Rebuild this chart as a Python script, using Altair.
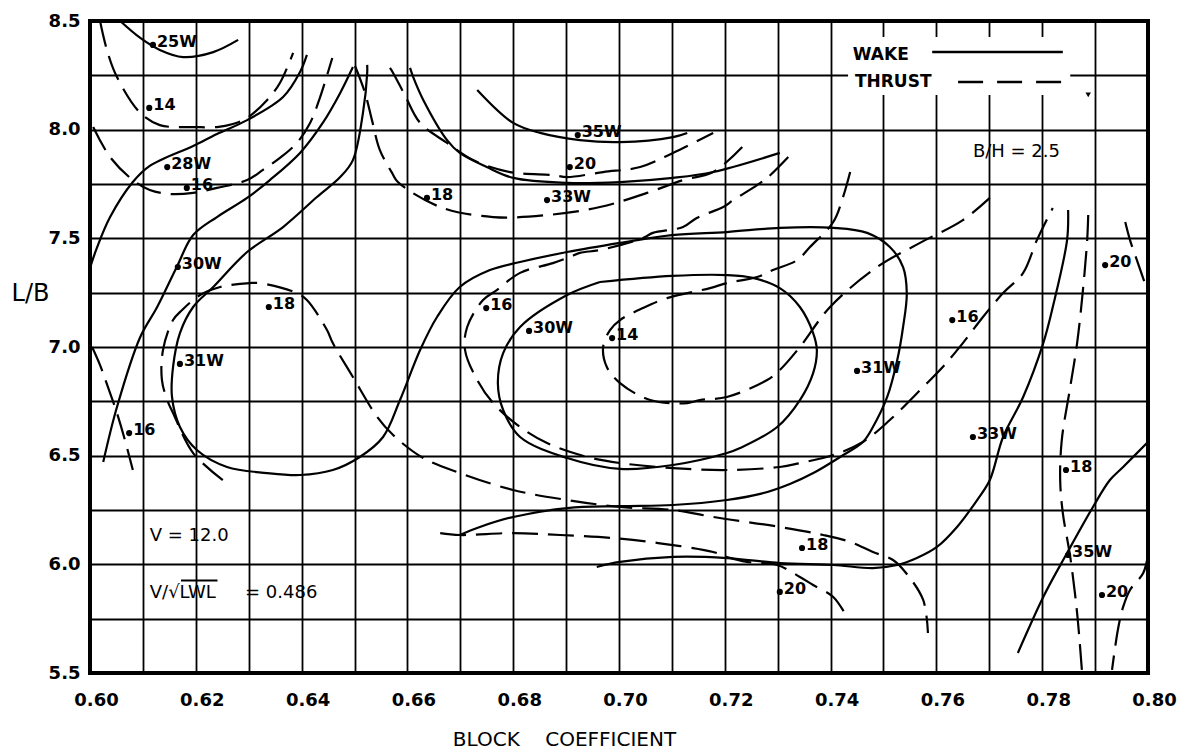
import altair as alt
import pandas as pd

# ---------------- axes ----------------
x_grid = [0.60, 0.61, 0.62, 0.63, 0.64, 0.65, 0.66, 0.67, 0.68, 0.69, 0.70,
          0.71, 0.72, 0.73, 0.74, 0.75, 0.76, 0.77, 0.78, 0.79, 0.80]
y_grid = [5.5, 5.75, 6.0, 6.25, 6.5, 6.75, 7.0, 7.25, 7.5, 7.75, 8.0, 8.25, 8.5]

# ---------------- WAKE contours (solid) ----------------
wake_25 = [(0.6057, 8.500), (0.6095, 8.422), (0.6132, 8.367), (0.6176, 8.334),
           (0.6233, 8.357), (0.6280, 8.413)]
wake_28 = [(0.6000, 7.364), (0.6013, 7.456), (0.6038, 7.598), (0.6081, 7.759),
           (0.6113, 7.833), (0.6195, 7.925), (0.6240, 7.980), (0.6297, 8.044),
           (0.6365, 8.150), (0.6397, 8.265), (0.6410, 8.344)]
wake_30_left = [(0.6025, 6.471), (0.6051, 6.724), (0.6095, 7.046), (0.6127, 7.184),
                (0.6164, 7.368), (0.6195, 7.515), (0.6240, 7.598), (0.6297, 7.686),
                (0.6340, 7.768), (0.6397, 7.893), (0.6440, 8.031), (0.6473, 8.169),
                (0.6497, 8.288)]
wake_31 = [(0.6524, 8.298), (0.6524, 8.261), (0.6516, 8.077), (0.6497, 7.860),
           (0.6473, 7.782), (0.6429, 7.690), (0.6365, 7.552), (0.6297, 7.437),
           (0.6233, 7.276), (0.6195, 7.184), (0.6170, 7.064), (0.6157, 6.908),
           (0.6155, 6.770), (0.6170, 6.632), (0.6202, 6.526), (0.6259, 6.448),
           (0.6335, 6.420), (0.6397, 6.411), (0.6459, 6.434), (0.6510, 6.494),
           (0.6554, 6.586), (0.6586, 6.756), (0.6624, 6.986), (0.6656, 7.138),
           (0.6699, 7.276), (0.6756, 7.354), (0.6813, 7.391), (0.6902, 7.437),
           (0.7002, 7.479), (0.7100, 7.515), (0.7204, 7.529), (0.7304, 7.548),
           (0.7405, 7.548), (0.7469, 7.525), (0.7512, 7.460), (0.7537, 7.368),
           (0.7544, 7.248), (0.7537, 7.092), (0.7526, 6.940), (0.7507, 6.770),
           (0.7480, 6.632), (0.7461, 6.563), (0.7418, 6.494), (0.7371, 6.425),
           (0.7323, 6.370), (0.7267, 6.324), (0.7204, 6.296), (0.7102, 6.273),
           (0.7002, 6.268), (0.6902, 6.259), (0.6800, 6.218), (0.6737, 6.172),
           (0.6699, 6.135)]
wake_30_loop = [(0.6964, 7.299), (0.7100, 7.327), (0.7204, 7.331), (0.7253, 7.318),
                (0.7304, 7.271), (0.7342, 7.184), (0.7367, 7.064), (0.7374, 6.986),
                (0.7367, 6.880), (0.7342, 6.756), (0.7299, 6.632), (0.7229, 6.535),
                (0.7204, 6.512), (0.7102, 6.457), (0.7002, 6.439), (0.6902, 6.489),
                (0.6813, 6.586), (0.6781, 6.710), (0.6771, 6.834), (0.6781, 6.972),
                (0.6813, 7.092), (0.6902, 7.239), (0.6964, 7.299)]
wake_33_top = [(0.6605, 8.284), (0.6611, 8.242), (0.6630, 8.137), (0.6675, 7.952),
               (0.6699, 7.893), (0.6750, 7.828), (0.6800, 7.778), (0.6902, 7.755),
               (0.7002, 7.759), (0.7102, 7.778), (0.7178, 7.805), (0.7304, 7.893)]
wake_35_top = [(0.6732, 8.183), (0.6800, 8.031), (0.6851, 7.985), (0.6926, 7.952),
               (0.7002, 7.943), (0.7102, 7.966), (0.7129, 7.985)]
wake_33_right = [(0.6958, 5.988), (0.7002, 6.011), (0.7102, 6.034), (0.7204, 6.029),
                 (0.7304, 6.006), (0.7405, 5.997), (0.7480, 5.983), (0.7526, 5.997),
                 (0.7563, 6.029), (0.7601, 6.080), (0.7639, 6.172), (0.7677, 6.296),
                 (0.7701, 6.388), (0.7726, 6.586), (0.7764, 6.770), (0.7802, 7.018),
                 (0.7820, 7.184), (0.7847, 7.492), (0.7849, 7.630)]
wake_35_right = [(0.7998, 6.558), (0.7953, 6.448), (0.7928, 6.388), (0.7896, 6.264),
                 (0.7847, 6.052), (0.7802, 5.850), (0.7754, 5.592)]

# ---------------- THRUST contours (dashed) ----------------
thrust_14_top = [(0.6019, 8.500), (0.6032, 8.367), (0.6051, 8.242), (0.6095, 8.077),
                 (0.6132, 8.021), (0.6165, 8.012), (0.6195, 8.012), (0.6240, 8.012),
                 (0.6270, 8.026), (0.6297, 8.054), (0.6335, 8.137), (0.6359, 8.215),
                 (0.6384, 8.353)]
thrust_16_top = [(0.6006, 8.012), (0.6038, 7.874), (0.6081, 7.768), (0.6113, 7.722),
                 (0.6151, 7.704), (0.6195, 7.709), (0.6240, 7.732), (0.6297, 7.768),
                 (0.6327, 7.815), (0.6359, 7.870), (0.6391, 7.939), (0.6416, 8.031),
                 (0.6435, 8.150), (0.6458, 8.330)]
thrust_16_left = [(0.6004, 7.000), (0.6019, 6.917), (0.6028, 6.857), (0.6038, 6.788),
                  (0.6051, 6.696), (0.6066, 6.572), (0.6081, 6.434)]
thrust_18_main = [(0.6251, 6.388), (0.6195, 6.512), (0.6157, 6.696), (0.6146, 6.756),
                  (0.6136, 6.848), (0.6138, 6.986), (0.6157, 7.124), (0.6174, 7.170),
                  (0.6208, 7.239), (0.6246, 7.276), (0.6302, 7.294), (0.6321, 7.294),
                  (0.6391, 7.248), (0.6410, 7.216), (0.6448, 7.078), (0.6459, 7.018),
                  (0.6497, 6.862), (0.6543, 6.678), (0.6573, 6.595), (0.6630, 6.489),
                  (0.6699, 6.420), (0.6800, 6.342), (0.6902, 6.296), (0.7002, 6.264),
                  (0.7102, 6.250), (0.7178, 6.218), (0.7304, 6.172), (0.7386, 6.135),
                  (0.7437, 6.103), (0.7480, 6.057), (0.7518, 6.020), (0.7541, 5.965),
                  (0.7575, 5.836), (0.7584, 5.684)]
thrust_18_top = [(0.6501, 8.293), (0.6520, 8.169), (0.6533, 8.044), (0.6548, 7.906),
                 (0.6571, 7.801), (0.6582, 7.759), (0.6662, 7.644), (0.6762, 7.598),
                 (0.6864, 7.607), (0.6964, 7.644), (0.7053, 7.709), (0.7121, 7.768),
                 (0.7178, 7.805), (0.7233, 7.920)]
thrust_20_top = [(0.6567, 8.284), (0.6573, 8.261), (0.6595, 8.160), (0.6624, 8.031),
                 (0.6675, 7.939), (0.6724, 7.860), (0.6794, 7.805), (0.6875, 7.791),
                 (0.6902, 7.782), (0.6970, 7.805), (0.7040, 7.828), (0.7102, 7.893),
                 (0.7178, 7.985)]
thrust_16_mid = [(0.7320, 7.874), (0.7282, 7.782), (0.7261, 7.745), (0.7216, 7.676),
                 (0.7197, 7.644), (0.7147, 7.594), (0.7121, 7.552), (0.7064, 7.525),
                 (0.7045, 7.501), (0.6964, 7.446), (0.6926, 7.433), (0.6907, 7.414),
                 (0.6875, 7.386), (0.6813, 7.341), (0.6769, 7.262), (0.6743, 7.216),
                 (0.6713, 7.092), (0.6709, 6.986), (0.6732, 6.848), (0.6762, 6.742),
                 (0.6813, 6.632), (0.6864, 6.558), (0.6940, 6.494), (0.7002, 6.466),
                 (0.7102, 6.443), (0.7204, 6.434), (0.7304, 6.448), (0.7342, 6.466),
                 (0.7405, 6.503), (0.7461, 6.563), (0.7512, 6.664), (0.7575, 6.816),
                 (0.7612, 6.908), (0.7650, 7.018), (0.7688, 7.138), (0.7726, 7.248),
                 (0.7764, 7.341), (0.7790, 7.492), (0.7820, 7.640)]
thrust_14_mid = [(0.7437, 7.805), (0.7423, 7.686), (0.7405, 7.575), (0.7361, 7.460),
                 (0.7337, 7.400), (0.7291, 7.354), (0.7261, 7.322), (0.7204, 7.294),
                 (0.7172, 7.271), (0.7091, 7.225), (0.7045, 7.179), (0.7002, 7.124),
                 (0.6983, 7.078), (0.6970, 7.000), (0.6977, 6.908), (0.7002, 6.834),
                 (0.7059, 6.756), (0.7129, 6.742), (0.7153, 6.756), (0.7204, 6.770),
                 (0.7280, 6.848), (0.7304, 6.894), (0.7342, 7.000), (0.7399, 7.184),
                 (0.7488, 7.368), (0.7569, 7.479), (0.7650, 7.584), (0.7701, 7.686)]
thrust_20_low = [(0.6662, 6.144), (0.6699, 6.135), (0.6800, 6.144), (0.6889, 6.135),
                 (0.6989, 6.121), (0.7074, 6.098), (0.7178, 6.057), (0.7204, 6.034),
                 (0.7242, 6.011), (0.7299, 5.997), (0.7342, 5.942), (0.7367, 5.905),
                 (0.7405, 5.850), (0.7431, 5.758)]
thrust_18_right = [(0.7887, 7.607), (0.7885, 7.492), (0.7877, 7.262), (0.7866, 7.018),
                   (0.7853, 6.816), (0.7837, 6.572), (0.7834, 6.388), (0.7839, 6.236),
                   (0.7853, 6.034), (0.7866, 5.776), (0.7875, 5.514)]
thrust_20_right_top = [(0.7957, 7.575), (0.7966, 7.492), (0.7979, 7.400),
                       (0.7994, 7.294), (0.8000, 7.253)]
thrust_20_right_low = [(0.8000, 6.043), (0.7991, 5.960), (0.7966, 5.882),
                       (0.7953, 5.804), (0.7943, 5.698), (0.7932, 5.514)]

wake_curves = {"w25": wake_25, "w28": wake_28, "w30a": wake_30_left, "w31": wake_31,
               "w30b": wake_30_loop, "w33a": wake_33_top, "w35a": wake_35_top,
               "w33b": wake_33_right, "w35b": wake_35_right}
thrust_curves = {"t14a": thrust_14_top, "t16a": thrust_16_top, "t16c": thrust_16_left,
                 "t18a": thrust_18_main, "t18b": thrust_18_top, "t20a": thrust_20_top,
                 "t16b": thrust_16_mid, "t14b": thrust_14_mid, "t20b": thrust_20_low,
                 "t18c": thrust_18_right, "t20c": thrust_20_right_top,
                 "t20d": thrust_20_right_low}

# ---------------- contour value labels ----------------
label_text = [".25W", ".14", ".28W", ".16", ".30W", ".18", ".31W", ".16",
              ".18", ".35W", ".20", ".33W", ".16", ".30W", ".14", ".31W",
              ".16", ".20", ".33W", ".18", ".18", ".20", ".35W", ".20"]
label_x = [0.6119, 0.6112, 0.6146, 0.6183, 0.6166, 0.6338, 0.6170, 0.6074,
           0.6637, 0.6922, 0.6907, 0.6864, 0.6749, 0.6830, 0.6987, 0.7450,
           0.7630, 0.7919, 0.7669, 0.7845, 0.7346, 0.7304, 0.7849, 0.7913]
label_y = [8.390, 8.100, 7.828, 7.732, 7.368, 7.184, 6.922, 6.604,
           7.686, 7.975, 7.828, 7.676, 7.179, 7.074, 7.041, 6.890,
           7.124, 7.377, 6.586, 6.434, 6.075, 5.873, 6.043, 5.859]

# ---------------- annotations ----------------
note_text = ["B/H = 2.5", "V = 12.0", "V/√LWL", "= 0.486"]
note_x = [0.7669, 0.6113, 0.6113, 0.6293]
note_y = [7.897, 6.130, 5.868, 5.868]
overline_x, overline_x2, overline_y = [0.6172], [0.6241], [5.926]

legend_box_x, legend_box_x2 = [0.7433], [0.7853]
legend_box_y, legend_box_y2 = [8.426], [8.160]
legend_text = ["WAKE", "THRUST"]
legend_text_x = [0.7442, 0.7446]
legend_text_y = [8.344, 8.219]
legend_kind = ["WAKE", "THRUST"]
legend_line_x = [0.7592, 0.7641]
legend_line_x2 = [0.7839, 0.7839]
legend_line_y = [8.357, 8.219]
blob_x, blob_y = [0.7887], [8.160]

FONT = "DejaVu Sans"


def curves_df(curves, kind):
    rows = []
    for name, pts in curves.items():
        for i, (x, y) in enumerate(pts):
            rows.append({"curve": name, "kind": kind, "i": i, "x": x, "y": y})
    return pd.DataFrame(rows)


wake_df = curves_df(wake_curves, "WAKE")
thrust_df = curves_df(thrust_curves, "THRUST")
labels_df = pd.DataFrame({"x": label_x, "y": label_y, "label": label_text})
notes_df = pd.DataFrame({"x": note_x, "y": note_y, "label": note_text})
over_df = pd.DataFrame({"x": overline_x, "x2": overline_x2, "y": overline_y})
box_df = pd.DataFrame({"x": legend_box_x, "x2": legend_box_x2,
                       "y": legend_box_y, "y2": legend_box_y2})
leg_text_df = pd.DataFrame({"x": legend_text_x, "y": legend_text_y, "label": legend_text})
leg_line_df = pd.DataFrame({"x": legend_line_x, "x2": legend_line_x2,
                            "y": legend_line_y, "kind": legend_kind})
blob_df = pd.DataFrame({"x": blob_x, "y": blob_y})

NB = "\u00a0"
X = alt.X("x:Q",
          scale=alt.Scale(domain=[0.6, 0.8], nice=False, zero=False),
          axis=alt.Axis(values=x_grid,
                        labelExpr="round(datum.value*100) % 2 == 0 ? format(datum.value, '.2f') : ''",
                        labelPadding=18, labelOffset=6, labelOverlap=False, labelFlush=False,
                        title="BLOCK" + NB * 4 + "COEFFICIENT", titleX=474, titleY=72,
                        titleAlign="center", titleBaseline="alphabetic", titleFontSize=20))
Y = alt.Y("y:Q",
          scale=alt.Scale(domain=[5.5, 8.5], nice=False, zero=False),
          axis=alt.Axis(values=y_grid,
                        labelExpr="round(datum.value*4) % 2 == 0 ? format(datum.value, '.1f') : ''",
                        labelPadding=10, labelOverlap=False, labelFlush=False,
                        title="L/B", titleAngle=0, titleX=-60, titleY=279,
                        titleAlign="center", titleBaseline="alphabetic", titleFontSize=24))

box = alt.Chart(box_df).mark_rect(color="white").encode(
    x=X, x2="x2:Q", y=Y, y2="y2:Q")

wake_lines = alt.Chart(wake_df).mark_line(
    color="black", strokeWidth=2.2, interpolate="catmull-rom", clip=True
).encode(x=X, y=Y, detail="curve:N", order="i:Q")

thrust_lines = alt.Chart(thrust_df).mark_line(
    color="black", strokeWidth=2.2, strokeDash=[26, 10], interpolate="catmull-rom", clip=True
).encode(x=X, y=Y, detail="curve:N", order="i:Q")

dots = alt.Chart(labels_df).mark_circle(
    color="black", size=38, opacity=1
).encode(x=X, y=Y)

label_txt = alt.Chart(labels_df).transform_calculate(
    t="substring(datum.label, 1)"
).mark_text(
    align="left", baseline="alphabetic", dx=4, dy=2, fontSize=16, fontWeight="bold",
    font=FONT, color="black"
).encode(x=X, y=Y, text="t:N")

notes = alt.Chart(notes_df).mark_text(
    align="left", baseline="middle", fontSize=18, font=FONT, color="black"
).encode(x=X, y=Y, text="label:N")

overline = alt.Chart(over_df).mark_rule(color="black", strokeWidth=2).encode(
    x=X, x2="x2:Q", y=Y)

leg_text = alt.Chart(leg_text_df).mark_text(
    align="left", baseline="middle", fontSize=17, fontWeight="bold", font=FONT, color="black"
).encode(x=X, y=Y, text="label:N")

leg_solid = alt.Chart(leg_line_df).transform_filter("datum.kind == 'WAKE'").mark_rule(
    color="black", strokeWidth=2.5).encode(x=X, x2="x2:Q", y=Y)
leg_dash = alt.Chart(leg_line_df).transform_filter("datum.kind == 'THRUST'").mark_rule(
    color="black", strokeWidth=2.5, strokeDash=[25, 14]).encode(x=X, x2="x2:Q", y=Y)

blob = alt.Chart(blob_df).mark_point(filled=True, color="black", size=30, opacity=1,
                                     shape="triangle-down").encode(x=X, y=Y)

chart = alt.layer(
    box, wake_lines, thrust_lines, leg_solid, leg_dash, dots, label_txt, notes,
    overline, leg_text, blob
).properties(
    width=1058, height=652,
    autosize=alt.AutoSizeParams(type="none"),
    padding={"left": 82, "top": 13, "right": 30, "bottom": 76},
    background="white"
).configure_view(
    stroke="black", strokeWidth=4
).configure_axis(
    grid=True, gridColor="black", gridWidth=1.8, gridOpacity=1,
    domain=False, ticks=False,
    labelColor="black", labelFont=FONT, labelFontSize=18, labelFontWeight="bold",
    titleColor="black", titleFont=FONT, titleFontWeight="normal"
)

chart.save("out.html", embed_options={"renderer": "svg", "actions": False})
